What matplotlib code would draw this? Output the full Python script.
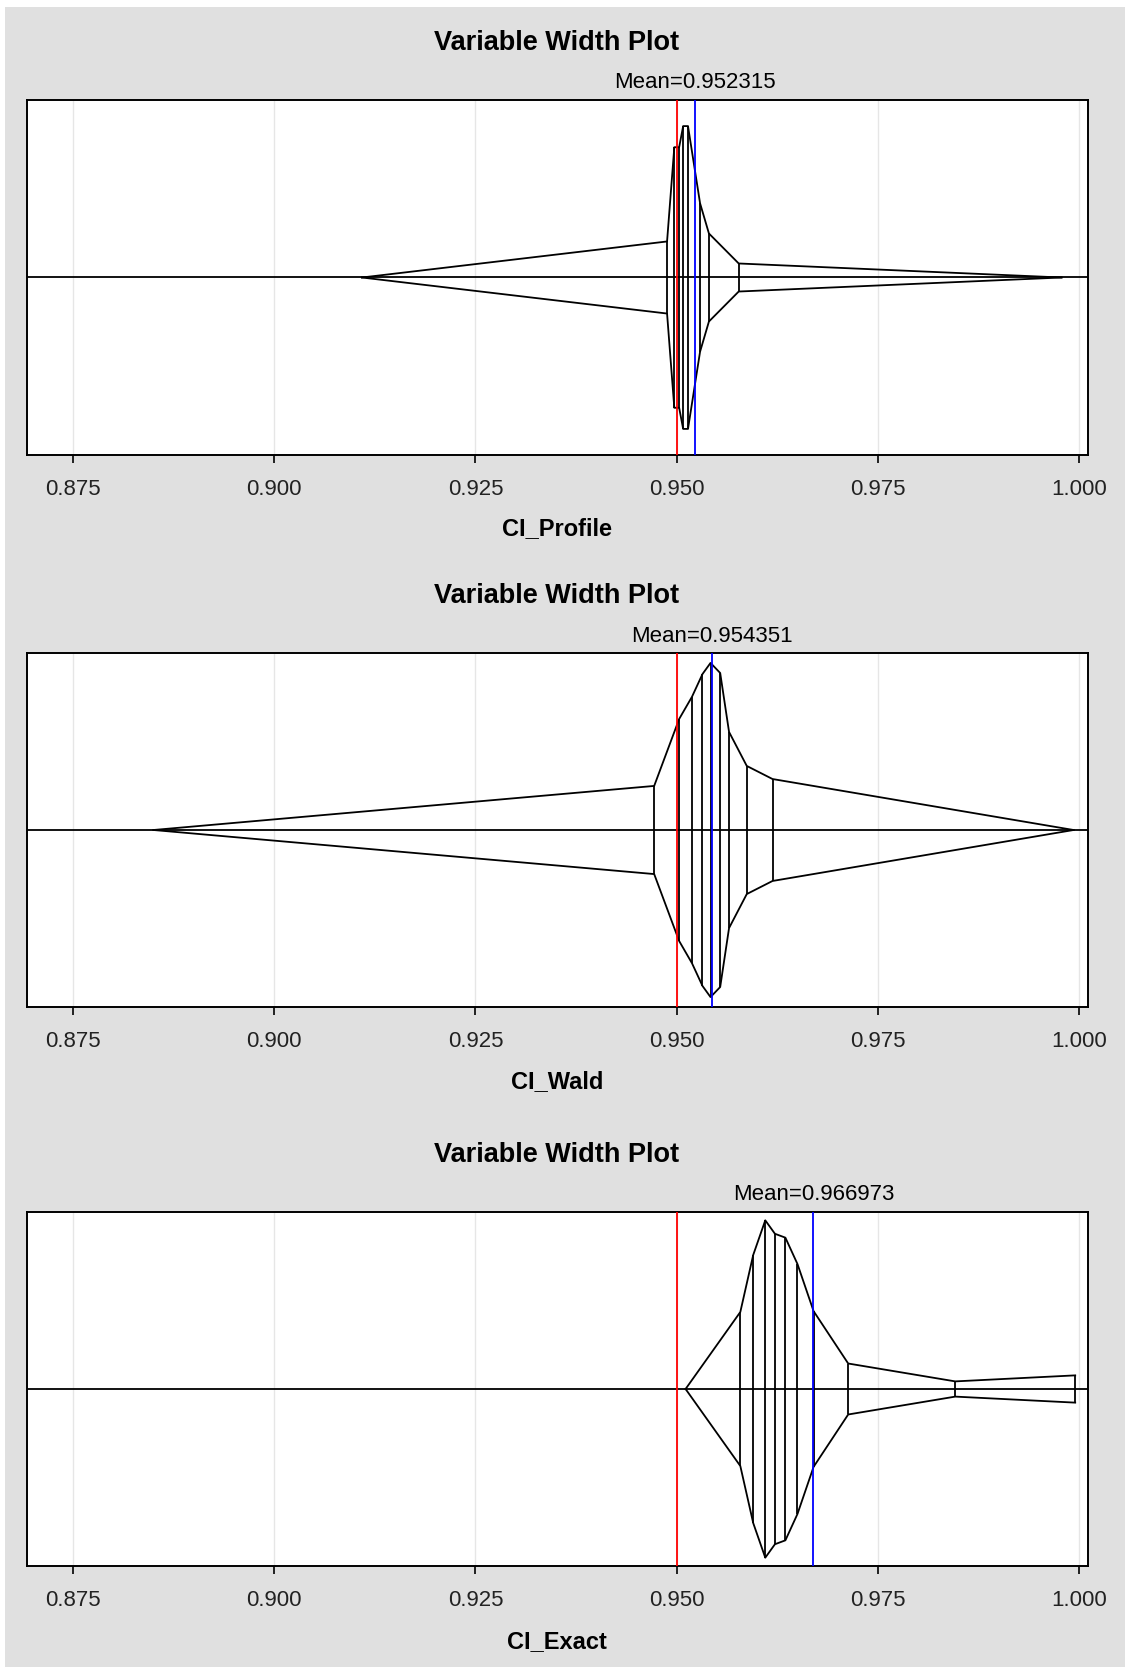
import numpy as np
import matplotlib
matplotlib.use("Agg")
import matplotlib.pyplot as plt
from matplotlib.patches import Rectangle

plt.rcParams['font.family'] = ['Liberation Sans', 'DejaVu Sans']

# Data: x positions of the shape vertices and their half-widths
# (half-width as fraction of the axis half-height)
names = ["CI_Profile", "CI_Wald", "CI_Exact"]
means = [0.952315, 0.954351, 0.966973]
target = 0.95

profile_x = [0.9109, 0.9488, 0.9497, 0.9503, 0.9508, 0.9514, 0.9529, 0.9540, 0.9577, 0.9978]
profile_w = [0.0, 0.203, 0.734, 0.734, 0.853, 0.853, 0.418, 0.248, 0.079, 0.0]

wald_x = [0.8850, 0.9472, 0.9503, 0.9519, 0.9532, 0.9542, 0.9554, 0.9565, 0.9587, 0.9619, 0.9993]
wald_w = [0.0, 0.249, 0.627, 0.753, 0.881, 0.944, 0.887, 0.554, 0.362, 0.288, 0.0]

exact_x = [0.9511, 0.9579, 0.9595, 0.9610, 0.9622, 0.9635, 0.9650, 0.9670, 0.9713, 0.9846, 0.9995]
exact_w = [0.0, 0.435, 0.757, 0.953, 0.877, 0.855, 0.706, 0.440, 0.144, 0.043, 0.077]

shapes_x = [profile_x, wald_x, exact_x]
shapes_w = [profile_w, wald_w, exact_w]

ticks = [0.875, 0.900, 0.925, 0.950, 0.975, 1.000]
tick_labels = ["0.875", "0.900", "0.925", "0.950", "0.975", "1.000"]

W, H = 1125, 1667
fig = plt.figure(figsize=(W / 100, H / 100), dpi=100)
fig.patch.set_facecolor("white")
fig.patches.append(Rectangle((5 / W, 0), 1 - 5 / W, 1 - 7 / H, transform=fig.transFigure,
                             facecolor="#e0e0e0", edgecolor="none", zorder=-10))

ax_left, ax_right = 26.6, 1088
tops = [100, 653, 1212]
bottoms = [455, 1007, 1566]
title_y = [43, 596, 1155]
mean_y = [82, 636, 1194]
xlabel_y = [529, 1082, 1642]

for i in range(3):
    ax = fig.add_axes([ax_left / W, 1 - bottoms[i] / H, (ax_right - ax_left) / W,
                       (bottoms[i] - tops[i]) / H])
    ax.set_xlim(0.86924, 1.00109)
    ax.set_ylim(-1, 1)
    for t in ticks:
        ax.axvline(t, color="#e6e6e6", lw=1.0, zorder=0)
    ax.axhline(0, color="black", lw=1.3, zorder=2)

    xs = np.array(shapes_x[i])
    ws = np.array(shapes_w[i])
    ax.plot(xs, ws, color="black", lw=1.3, zorder=3)
    ax.plot(xs, -ws, color="black", lw=1.3, zorder=3)
    ax.vlines(xs[ws > 0], -ws[ws > 0], ws[ws > 0], color="black", lw=1.3, zorder=3)

    ax.axvline(target, color="#ff0000", lw=1.3, zorder=4)
    ax.axvline(means[i], color="#0000ff", lw=1.3, zorder=4)

    ax.set_yticks([])
    ax.set_xticks(ticks)
    ax.set_xticklabels(tick_labels, fontsize=16, color="#222222")
    ax.tick_params(axis="x", length=6, width=1.2, pad=11)
    for s in ax.spines.values():
        s.set_linewidth(1.4)
        s.set_color("black")

    fig.text(557 / W, 1 - title_y[i] / H, "Variable Width Plot", ha="center", va="center",
             fontsize=19.5, fontweight="bold")
    mx = ax_left + (means[i] - 0.86924) / (1.00109 - 0.86924) * (ax_right - ax_left)
    fig.text(mx / W, 1 - mean_y[i] / H, "Mean=%.6f" % means[i], ha="center", va="center",
             fontsize=16)
    fig.text(557 / W, 1 - xlabel_y[i] / H, names[i], ha="center", va="center",
             fontsize=17, fontweight="bold")

fig.savefig("out.png", dpi=100)
